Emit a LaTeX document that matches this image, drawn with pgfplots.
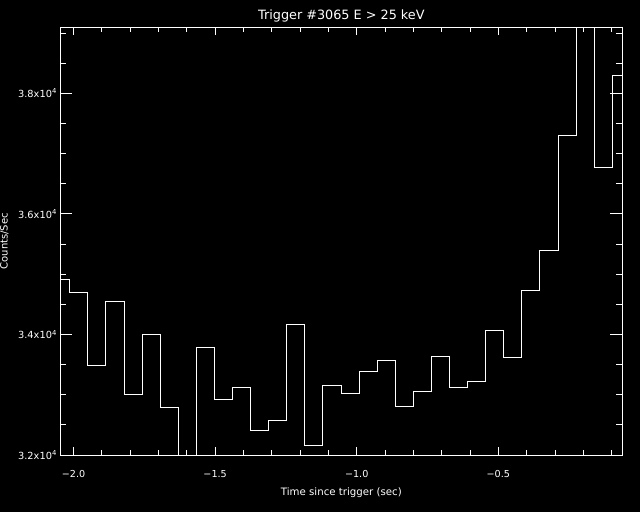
\documentclass[border=0pt]{standalone}
\usepackage{pgfplots}
\pgfplotsset{compat=1.18}
\usepackage{fontspec}
\setmainfont{DejaVu Sans}
\pgfplotstableread{
x y
-2.0773 34915
-2.0134 34699
-1.9495 33488
-1.8857 34550
-1.8218 33007
-1.7580 34002
-1.6941 32796
-1.6302 31800
-1.5664 33787
-1.5025 32924
-1.4386 33123
-1.3748 32410
-1.3109 32576
-1.2471 34168
-1.1832 32161
-1.1193 33156
-1.0555 33024
-0.9916 33389
-0.9278 33571
-0.8639 32808
-0.8000 33057
-0.7362 33637
-0.6723 33123
-0.6084 33223
-0.5446 34069
-0.4807 33621
-0.4169 34732
-0.3530 35396
-0.2891 37304
-0.2253 39500
-0.1614 36773
-0.0975 38299
-0.0337 38299
}\counts
\begin{document}
\begin{tikzpicture}[x=1pt,y=1pt]
\fill[black] (-60.4,-57) rectangle (579.6,455);
\begin{axis}[
  at={(0,0)}, anchor=south west,
  width=561.9pt, height=427.7pt, scale only axis,
  xmin=-2.0463, xmax=-0.0622, ymin=32000, ymax=39095,
  axis line style={white, line width=0.8pt},
  tick style={white, line width=0.8pt},
  xtick={-2,-1.5,-1,-0.5},
  xticklabels={−2.0,−1.5,−1.0,−0.5},
  minor xtick={-1.9,-1.8,-1.7,-1.6,-1.4,-1.3,-1.2,-1.1,-0.9,-0.8,-0.7,-0.6,-0.4,-0.3,-0.2,-0.1},
  ytick={32000,34000,36000,38000},
  yticklabels={3.2x10\textsuperscript{4},3.4x10\textsuperscript{4},3.6x10\textsuperscript{4},3.8x10\textsuperscript{4}},
  minor ytick={32500,33000,33500,34500,35000,35500,36500,37000,37500,38500,39000},
  scaled ticks=false,
  every major x tick/.append style={/pgfplots/major tick length=8pt},
  every minor x tick/.append style={/pgfplots/minor tick length=5pt},
  every major y tick/.append style={/pgfplots/major tick length=12pt},
  every minor y tick/.append style={/pgfplots/minor tick length=6pt},
  xticklabel style={white, font=\fontsize{9.6}{10}\selectfont, anchor=center, yshift=-19pt},
  yticklabel style={white, font=\fontsize{9.8}{10}\selectfont},
  title={Trigger \#3065 E > 25 keV},
  title style={white, font=\fontsize{12.8}{14}\selectfont, at={(axis description cs:0.5,1.0276)}, anchor=center, yshift=-6pt},
  xlabel={Time since trigger (sec)},
  xlabel style={white, font=\fontsize{10.2}{11}\selectfont, at={(axis description cs:0.5,-0.0888)}, anchor=center},
  ylabel={Counts/Sec},
  ylabel style={white, font=\fontsize{10}{11}\selectfont, at={(axis description cs:-0.0997,0.5)}, anchor=center},
]
\addplot[const plot, white, line width=0.9pt, mark=none] table[x=x,y=y] {\counts};
\end{axis}
\pgfresetboundingbox
\useasboundingbox (-60.4,-57) rectangle (579.6,455);
\end{tikzpicture}
\end{document}
